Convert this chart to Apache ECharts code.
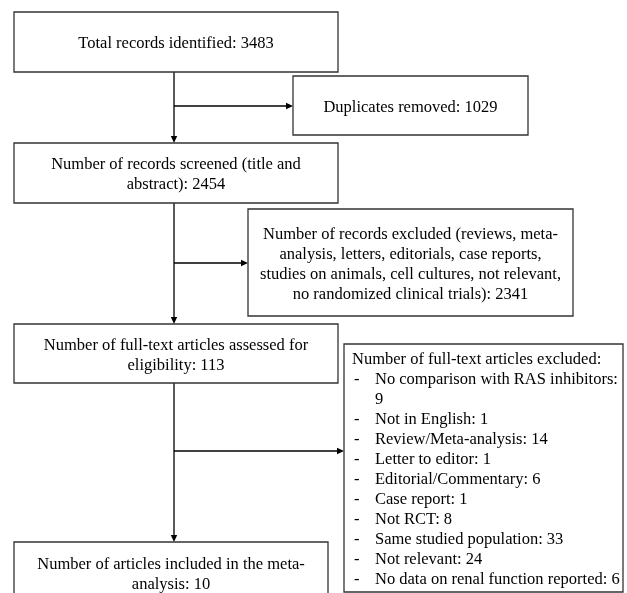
<!DOCTYPE html>
<html>
<head>
<meta charset="utf-8">
<script src="https://cdn.jsdelivr.net/npm/echarts@6/dist/echarts.min.js"></script>
<style>
  html, body { margin: 0; padding: 0; background: #fff; }
  #chart { width: 627px; height: 593px; }
</style>
</head>
<body>
<div id="chart"></div>
<script>
// flow steps (main column)
var stepLabels = [
  "Total records identified",
  "Number of records screened (title and\nabstract)",
  "Number of full-text articles assessed for\neligibility",
  "Number of articles included in the meta-\nanalysis"
];
var stepCounts = [3483, 2454, 113, 10];

// exclusions branching off to the right
var excludedLabels = [
  "Duplicates removed",
  "Number of records excluded (reviews, meta-\nanalysis, letters, editorials, case reports,\nstudies on animals, cell cultures, not relevant,\nno randomized clinical trials)"
];
var excludedCounts = [1029, 2341];

var fullTextHeader = "Number of full-text articles excluded:";
var fullTextReasons = [
  "No comparison with RAS inhibitors",
  "Not in English",
  "Review/Meta-analysis",
  "Letter to editor",
  "Editorial/Commentary",
  "Case report",
  "Not RCT",
  "Same studied population",
  "Not relevant",
  "No data on renal function reported"
];
var fullTextCounts = [9, 1, 14, 1, 6, 1, 8, 33, 24, 6];

// layout (page pixels)
var W = 627, H = 593;
var stepBoxes = [[14, 12, 338, 72], [14, 143, 338, 203], [14, 324, 338, 383], [14, 542, 328, 604]];
var sideBoxes = [[293, 76, 528, 135], [248, 209, 573, 316], [344, 344, 623, 592]];
var trunkX = 174;
var branchY = [106, 263, 451];

var FONT = '"Liberation Serif", "Times New Roman", serif';
var FONT_SIZE = 16.5;
var LINE_H = 20;
var TEXT_DY = 2; // nudge so glyphs sit like the original
var BORDER = "#333";
var INK = "#000";

var measureCtx = document.createElement("canvas").getContext("2d");
measureCtx.font = FONT_SIZE + "px " + FONT;

function wrapWords(str, maxW) {
  var words = str.split(" "), lines = [], cur = "";
  words.forEach(function(w) {
    var next = cur ? cur + " " + w : w;
    if (cur && measureCtx.measureText(next).width > maxW) {
      lines.push(cur);
      cur = w;
    } else {
      cur = next;
    }
  });
  if (cur) lines.push(cur);
  return lines;
}

// boxes: [x0, y0, x1, y1, kind, index]
var boxData = [];
stepBoxes.forEach(function(b, i) { boxData.push(b.concat([0, i])); });
sideBoxes.forEach(function(b, i) { boxData.push(b.concat([i < 2 ? 1 : 2, i])); });

// connectors: [x0, y0, x1, y1]
var linkData = [];
for (var i = 0; i < stepBoxes.length - 1; i++) {
  linkData.push([trunkX, stepBoxes[i][3], trunkX, stepBoxes[i + 1][1]]);
}
branchY.forEach(function(y, i) {
  linkData.push([trunkX, y, sideBoxes[i][0], y]);
});

function textEl(str, x, y, align) {
  return {
    type: "text",
    style: {
      text: str, x: x, y: y + TEXT_DY,
      fill: INK, fontSize: FONT_SIZE, fontFamily: FONT,
      align: align, verticalAlign: "middle", lineHeight: LINE_H
    }
  };
}

function renderBox(params, api) {
  var p0 = api.coord([api.value(0), api.value(1)]);
  var p1 = api.coord([api.value(2), api.value(3)]);
  var kind = api.value(4), idx = api.value(5);
  var children = [{
    type: "rect",
    shape: { x: p0[0], y: p0[1], width: p1[0] - p0[0], height: p1[1] - p0[1] },
    style: { fill: "#fff", stroke: BORDER, lineWidth: 1.3 }
  }];
  var cx = (p0[0] + p1[0]) / 2;
  if (kind === 0 || kind === 1) {
    var str = kind === 0
      ? stepLabels[idx] + ": " + stepCounts[idx]
      : excludedLabels[idx] + ": " + excludedCounts[idx];
    var nLines = str.split("\n").length;
    // last box is cut by the page edge, keep its text where it sits
    var cy = kind === 0 && idx === 3 ? p0[1] + 11 + nLines * LINE_H / 2 : (p0[1] + p1[1]) / 2;
    children.push(textEl(str, cx, cy, "center"));
  } else {
    var y = p0[1] + 14;
    children.push(textEl(fullTextHeader, p0[0] + 8, y, "left"));
    var dashX = p0[0] + 10, itemX = p0[0] + 31;
    var maxW = p1[0] - itemX - 3;
    fullTextReasons.forEach(function(r, k) {
      y += LINE_H;
      children.push(textEl("-", dashX, y, "left"));
      var lines = wrapWords(r + ": " + fullTextCounts[k], maxW);
      lines.forEach(function(ln, j) {
        if (j > 0) y += LINE_H;
        children.push(textEl(ln, itemX, y, "left"));
      });
    });
  }
  return { type: "group", children: children };
}

function renderLink(params, api) {
  var a = api.coord([api.value(0), api.value(1)]);
  var b = api.coord([api.value(2), api.value(3)]);
  var head = 7, half = 3.2;
  var dx = b[0] - a[0], dy = b[1] - a[1];
  var len = Math.sqrt(dx * dx + dy * dy);
  var ux = dx / len, uy = dy / len;
  var bx = b[0] - ux * head, by = b[1] - uy * head;
  return {
    type: "group",
    children: [{
      type: "line",
      shape: { x1: a[0], y1: a[1], x2: bx, y2: by },
      style: { stroke: INK, lineWidth: 1.3 }
    }, {
      type: "polygon",
      shape: { points: [[b[0], b[1]], [bx - uy * half, by + ux * half], [bx + uy * half, by - ux * half]] },
      style: { fill: INK }
    }]
  };
}

var chart = echarts.init(document.getElementById("chart"));
chart.setOption({
  animation: false,
  backgroundColor: "#fff",
  grid: { left: 0, right: 0, top: 0, bottom: 0 },
  xAxis: { type: "value", min: 0, max: W, show: false },
  yAxis: { type: "value", min: 0, max: H, inverse: true, show: false },
  series: [
    {
      type: "custom",
      name: "links",
      renderItem: renderLink,
      data: linkData,
      silent: true
    },
    {
      type: "custom",
      name: "boxes",
      renderItem: renderBox,
      data: boxData,
      silent: true
    }
  ]
});
</script>
</body>
</html>
